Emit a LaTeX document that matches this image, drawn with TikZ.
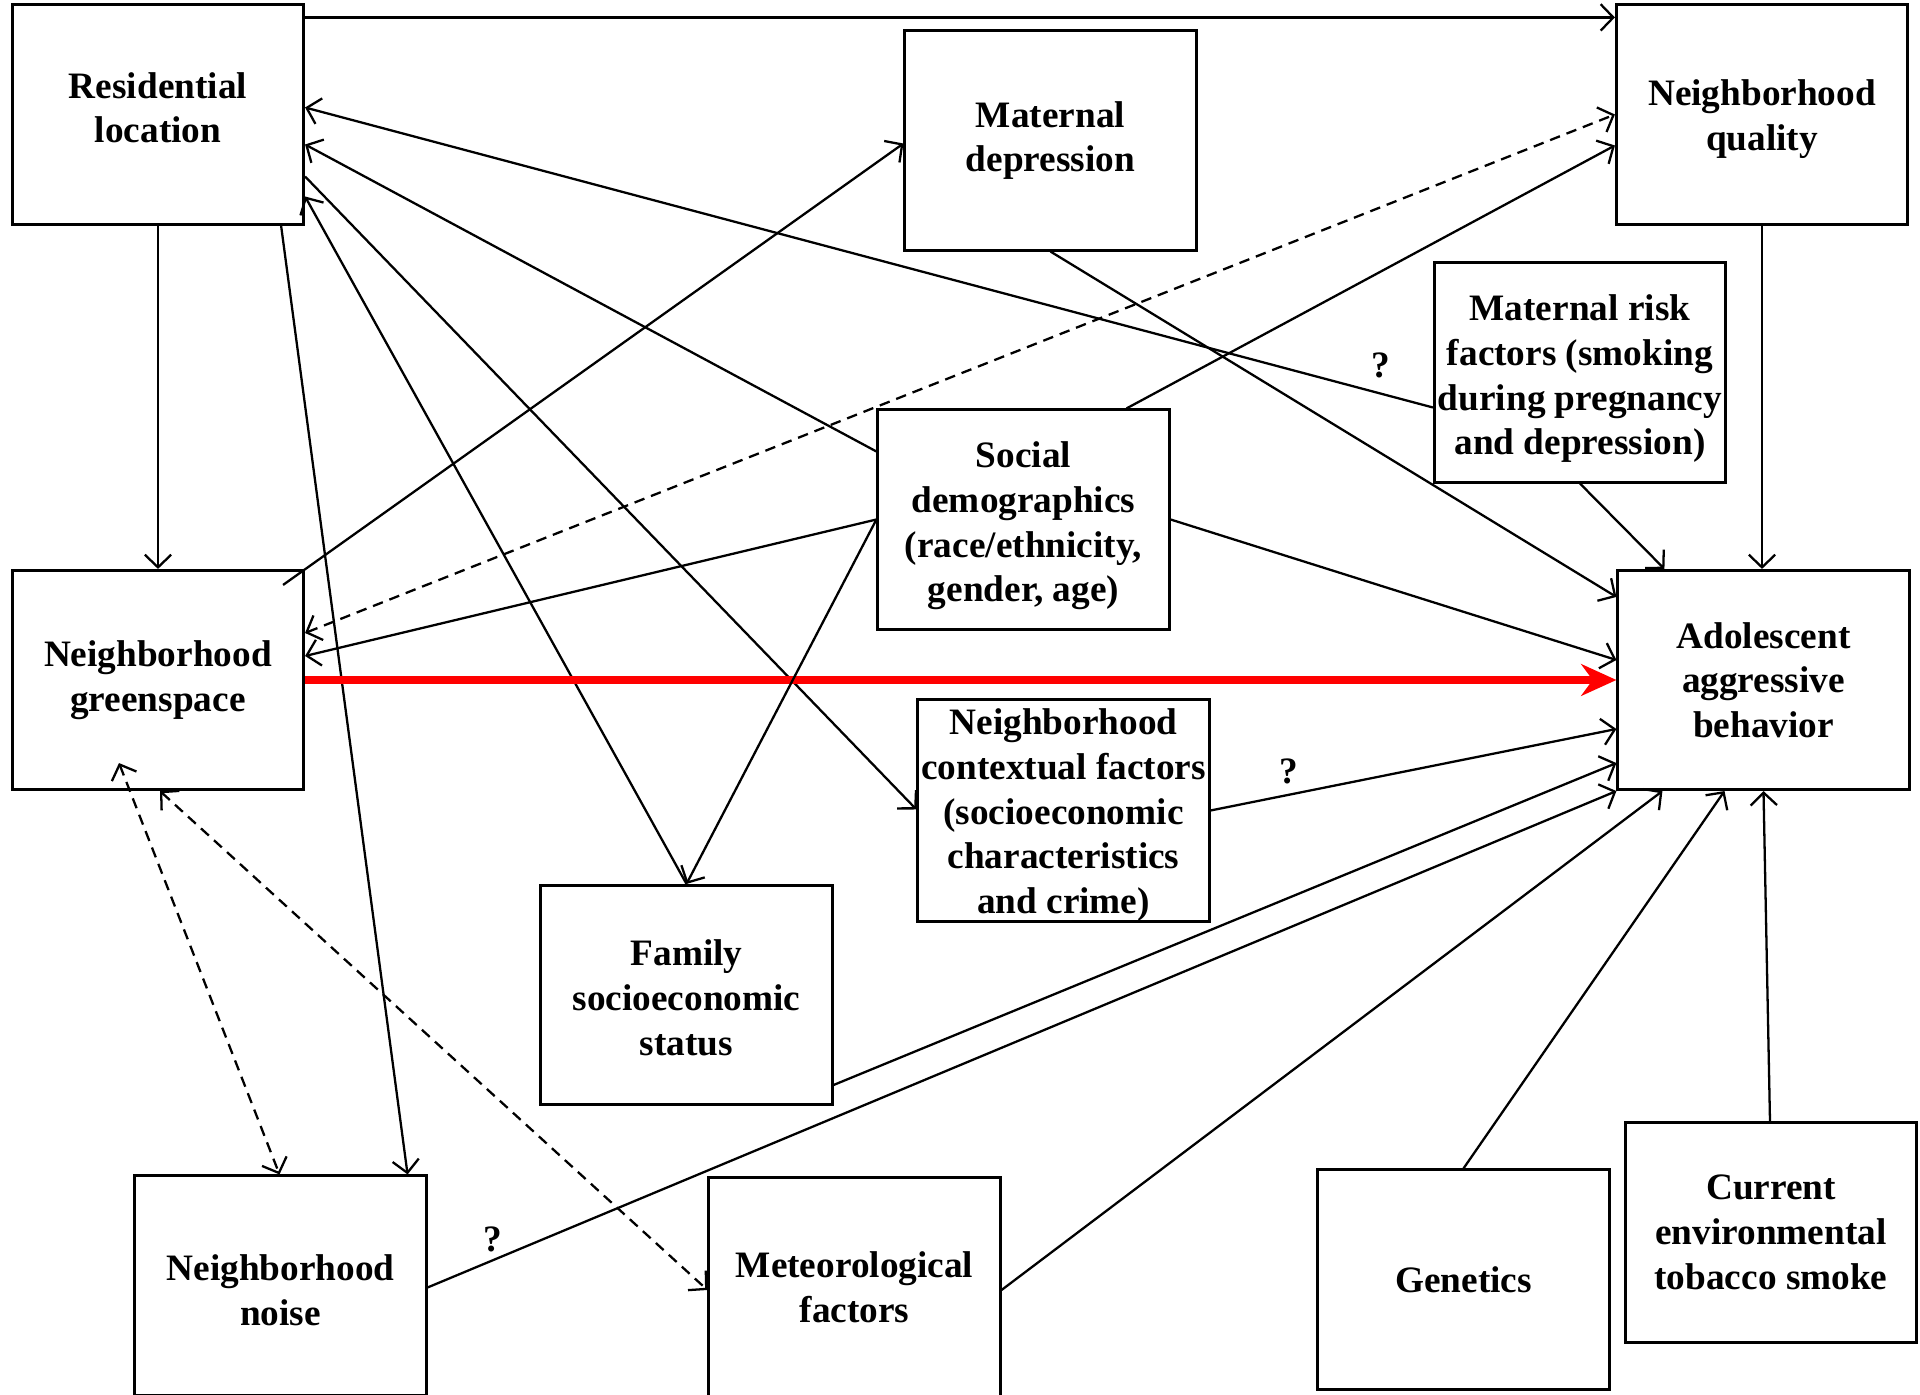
\documentclass[tikz,border=0pt]{standalone}
\usepackage{fontspec}
\setmainfont{Liberation Serif}
\usetikzlibrary{arrows.meta,calc}
\begin{document}
\begin{tikzpicture}[x=0.01cm,y=-0.01cm,
  box/.style={draw,line width=0.85pt,minimum width=2.91cm,minimum height=2.19cm,inner sep=0pt,align=center,
    font=\fontsize{10.6pt}{12.7pt}\selectfont\bfseries},
  conn/.style={line width=0.65pt,-{Straight Barb[length=3.6pt,width=7.5pt]}},
  back/.style={line width=0.65pt,{Straight Barb[length=3.6pt,width=7.5pt]}-},
  both/.style={line width=0.65pt,dash pattern=on 3pt off 2pt,{Straight Barb[length=3.6pt,width=7.5pt]}-{Straight Barb[length=3.6pt,width=7.5pt]}},
  qmark/.style={font=\fontsize{10.6pt}{12.7pt}\selectfont\bfseries,inner sep=0pt}]
\useasboundingbox (0,0) rectangle (1920,1395);
\node[box] (res) at (158,114.5) {Residential\\location\rule[-4pt]{0pt}{0pt}};
\node[box] (md) at (1050.5,140.5) {Maternal\\depression};
\node[box] (nq) at (1762,114.5) {\rule{0pt}{10pt}Neighborhood\\quality};
\node[box] (mrf) at (1580,372.5) {\rule{0pt}{11pt}Maternal risk\\factors (smoking\\during pregnancy\\and depression)};
\node[box] (soc) at (1023.5,519.5) {\rule{0pt}{11pt}Social\\demographics\\(race/ethnicity,\\gender, age)};
\node[box] (green) at (158,680) {Neighborhood\\greenspace};
\node[box] (adol) at (1763.5,680) {Adolescent\\aggressive\\behavior};
\node[box] (ctx) at (1063.5,810.5) {\rule{0pt}{10pt}Neighborhood\\contextual factors\\(socioeconomic\\characteristics\\and crime)};
\node[box] (fses) at (686.5,995) {\rule{0pt}{9pt}Family\\socioeconomic\\status};
\node[box] (noise) at (280.5,1285.5) {\rule{0pt}{10pt}Neighborhood\\noise};
\node[box] (met) at (854.5,1287) {Meteorological\\factors};
\node[box] (gen) at (1463.5,1279.5) {Genetics};
\node[box] (tob) at (1771,1232.5) {Current\\environmental\\tobacco smoke};

\node[qmark] (q1) at (1381,365) {?};
\node[qmark] (q2) at (1289,771) {?};
\node[qmark] (q3) at (493,1239) {?};

% from residential location
\draw[conn] ($(res.north east)+(0,14)$) -- ($(nq.north west)+(0,14)$);
\draw[conn] (res.south) -- (green.north);
\draw[conn] ($(res.south east)+(-24,0)$) -- ($(noise.north east)+(-20,0)$);
\draw[conn] ($(res.east)+(0,62)$) -- ($(ctx.west)+(0,-1)$);
% into residential location
\draw[back] ($(res.east)+(0,-7)$) -- ($(mrf.west)+(0,35)$);
\draw[back] ($(res.east)+(0,30)$) -- ($(soc.west)+(0,-68)$);
\draw[back] ($(res.east)+(0,82)$) -- (fses.north);
% greenspace
\draw[conn] ($(green.north east)+(-22,16)$) -- ($(md.west)+(0,3)$);
\draw[both] ($(green.east)+(0,-47)$) -- (nq.west);
\draw[both] ($(green.south)+(-39,-28)$) -- ($(noise.north)+(-1,0)$);
\draw[both] ($(green.south)+(2,0)$) -- ($(met.west)+(0,3)$);
\draw[red,line width=2.2pt,-{Stealth[length=10pt,width=9pt]}] (green.east) -- (adol.west);
% social demographics
\draw[conn] (soc.west) -- ($(green.east)+(0,-24)$);
\draw[conn] (soc.west) -- (fses.north);
\draw[conn] ($(soc.north)+(103,0)$) -- ($(nq.west)+(0,31)$);
\draw[conn] (soc.east) -- ($(adol.west)+(0,-20)$);
% into adolescent
\draw[conn] (md.south) -- ($(adol.north west)+(0,28)$);
\draw[conn] (mrf.south) -- ($(adol.north west)+(48,0)$);
\draw[conn] (nq.south) -- (nq.south |- adol.north);
\draw[conn] (ctx.east) -- ($(adol.west)+(0,49)$);
\draw[conn] ($(fses.east)+(0,90)$) -- ($(adol.south west)+(0,-28)$);
\draw[conn] ($(noise.east)+(0,2)$) -- (adol.south west);
\draw[conn] ($(met.east)+(0,3)$) -- ($(adol.south west)+(46,0)$);
\draw[conn] (gen.north) -- ($(adol.south)+(-39,0)$);
\draw[conn] ($(tob.north)+(-1,0)$) -- (adol.south);
\end{tikzpicture}
\end{document}
